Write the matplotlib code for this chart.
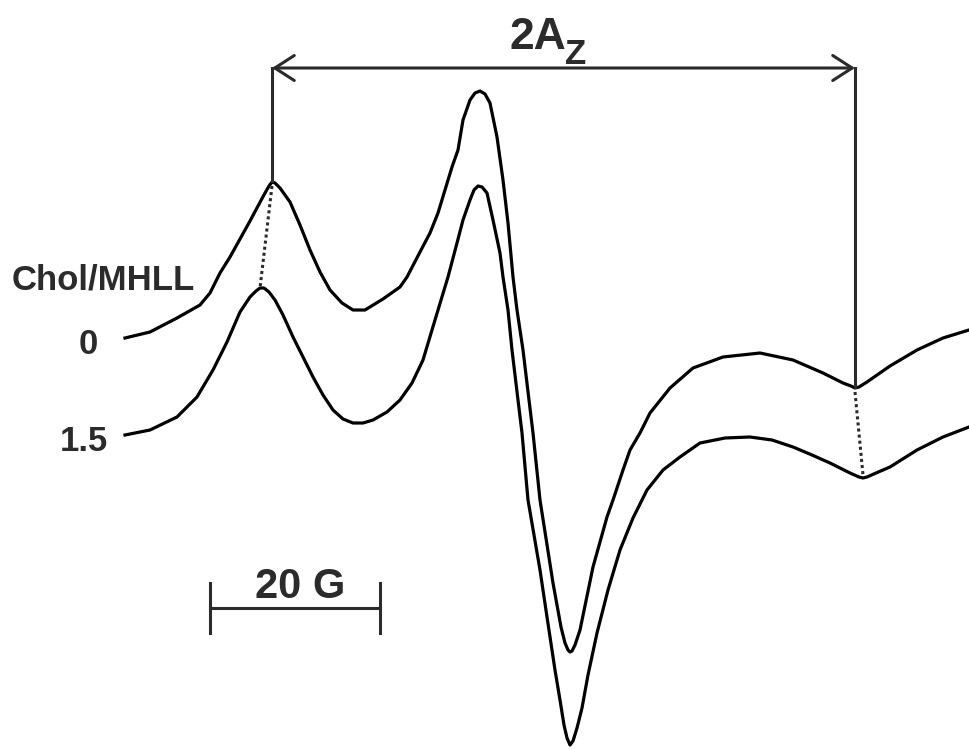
import matplotlib
matplotlib.use("Agg")
import matplotlib.pyplot as plt

# traces (pixel units, y grows downward)
field_0 = [125, 150, 177, 200, 210, 220, 230, 240, 250, 258, 265, 269, 272, 275, 280, 290, 300, 310,
           320, 330, 342, 353, 365, 383, 400, 407, 420, 430, 438, 445, 452, 458, 463, 470, 475,
           480, 485, 490, 497, 503, 508, 513, 517, 523, 529, 533, 540, 553, 561, 565, 568, 570, 572,
           575, 580, 593, 607, 613, 623, 630, 640, 650, 670, 693, 723, 760, 793, 823, 843, 851, 855,
           859, 867, 890, 917, 943, 969]
signal_0 = [338, 332, 318, 305, 293, 273, 257, 239, 221, 206, 193, 186, 182, 183, 188, 202, 225, 250,
            272, 290, 303, 310, 310, 299, 287, 277, 252, 233, 213, 190, 167, 150, 120, 100, 93,
            91, 94, 103, 137, 180, 223, 277, 310, 350, 400, 433, 500, 583, 627, 643, 650, 652, 651,
            645, 630, 567, 517, 500, 470, 450, 433, 413, 388, 368, 357, 353, 360, 373, 383, 386, 388,
            387, 382, 366, 350, 338, 330]

field_15 = [125, 150, 177, 197, 213, 227, 240, 250, 256, 260, 264, 269, 275, 283, 293, 303, 313, 323,
            333, 343, 353, 363, 373, 387, 400, 412, 423, 435, 448, 457, 463, 470, 474, 478, 482,
            487, 493, 500, 503, 508, 512, 518, 522, 528, 540, 547, 555, 560, 564, 567, 570, 573, 577,
            582, 588, 597, 608, 620, 633, 647, 663, 680, 700, 725, 750, 772, 793, 812, 830, 850, 859,
            863, 867, 876, 890, 917, 943, 969]
signal_15 = [435, 430, 417, 397, 370, 342, 312, 297, 291, 288, 288, 292, 300, 315, 337, 357, 377, 395,
             410, 419, 423, 423, 420, 412, 400, 383, 360, 320, 277, 243, 220, 200, 190, 186, 187,
             193, 220, 253, 277, 310, 350, 400, 433, 500, 570, 617, 670, 700, 725, 738, 745, 741, 728,
             708, 675, 633, 590, 550, 518, 490, 470, 457, 443, 438, 437, 440, 447, 455, 463, 473, 477,
             478, 477, 473, 467, 450, 437, 427]

labels = ["0", "1.5"]
header = "Chol/MHLL"
scale_label = "20 G"
split_label = "2A"
split_sub = "Z"

# annotation geometry
arrow_y = 68
left_x, left_top, left_bot = 272, 183, 290
right_x, right_top, right_bot = 855, 389, 477
bar_x0, bar_x1, bar_y, bar_h = 210, 380, 608, 25

ink = "#2b2b2b"
fig = plt.figure(figsize=(9.69, 7.49), dpi=100)
ax = fig.add_axes([0, 0, 1, 1])
ax.set_xlim(0, 969)
ax.set_ylim(749, 0)
ax.axis("off")

ax.plot(field_0, signal_0, color="black", lw=2.3, solid_joinstyle="round")
ax.plot(field_15, signal_15, color="black", lw=2.3, solid_joinstyle="round")

# 2Az bracket
ax.plot([left_x, left_x], [arrow_y, left_top - 2], color=ink, lw=2.2)
ax.plot([right_x, right_x], [arrow_y, right_top - 2], color=ink, lw=2.2)
ax.annotate("", xy=(right_x, arrow_y), xytext=(left_x, arrow_y),
            arrowprops=dict(arrowstyle="<->,head_length=0.7,head_width=0.45",
                            lw=2.2, color=ink, shrinkA=0, shrinkB=0, mutation_scale=20))

# dotted guides between the two traces
ax.plot([left_x, 260], [left_top + 3, left_bot - 2], color=ink, lw=2.2, ls=(0, (1, 1)))
ax.plot([right_x, 863], [right_top + 3, right_bot - 2], color=ink, lw=2.2, ls=(0, (1, 1)))

# scale bar
ax.plot([bar_x0, bar_x1], [bar_y, bar_y], color=ink, lw=2.2)
ax.plot([bar_x0, bar_x0], [bar_y - bar_h, bar_y + bar_h], color=ink, lw=2.2)
ax.plot([bar_x1, bar_x1], [bar_y - bar_h, bar_y + bar_h], color=ink, lw=2.2)

bold = dict(fontweight="bold", color=ink, family=["Liberation Sans", "DejaVu Sans"])

ax.text(566, 49, split_label, ha="right", va="baseline", fontsize=32, **bold)
ax.text(565, 64, split_sub, ha="left", va="baseline", fontsize=25, **bold)
ax.text(12, 289, header, ha="left", va="baseline", fontsize=25, **bold)
ax.text(88, 354, labels[0], ha="center", va="baseline", fontsize=25, **bold)
ax.text(84, 451, labels[1], ha="center", va="baseline", fontsize=25, **bold)
ax.text(300, 598, scale_label, ha="center", va="baseline", fontsize=30, **bold)

fig.savefig("out.png", dpi=100)
